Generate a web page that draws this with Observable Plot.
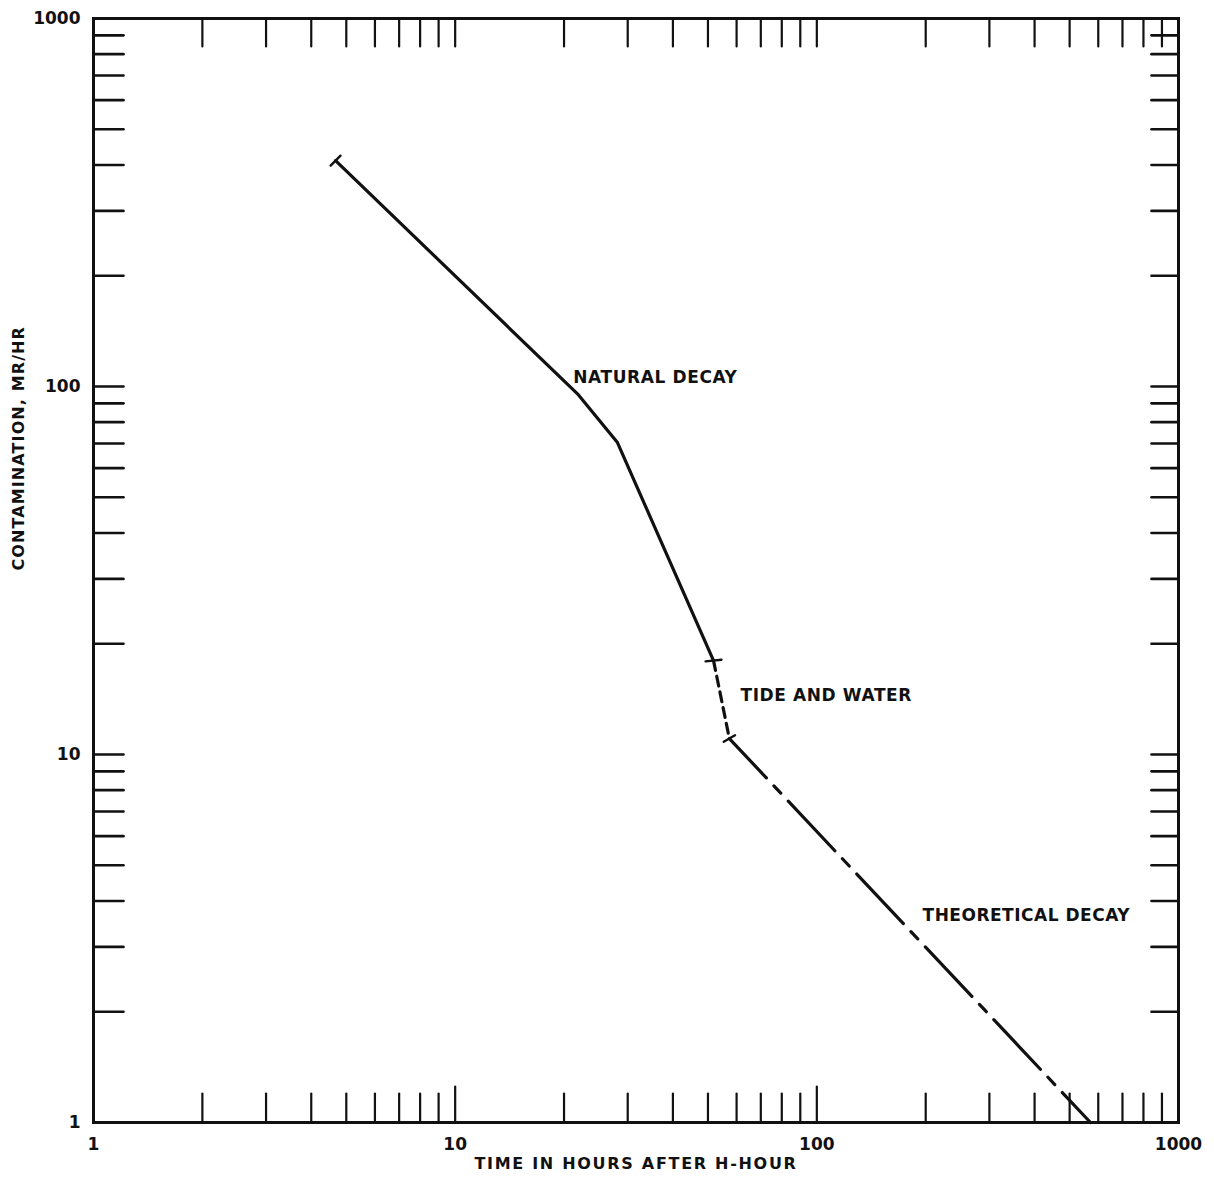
<!DOCTYPE html>
<html>
<head>
<meta charset="utf-8">
<script src="https://cdn.jsdelivr.net/npm/d3@7"></script>
<script src="https://cdn.jsdelivr.net/npm/@observablehq/plot@0.6"></script>
<style>
  body { margin: 0; background: #fff; }
  svg { display: block; }
</style>
</head>
<body>
<div id="chart"></div>
<script>
// ---- data ----
const naturalDecay = [
  {t: 4.67, c: 411},
  {t: 21.9, c: 95},
  {t: 28.1, c: 70.4},
  {t: 51.8, c: 18.0}
];
const tideAndWater = [
  {t: 51.8, c: 18.0},
  {t: 57.3, c: 11.05}
];
const theoreticalDecay = [
  {t: 57.3, c: 11.05},
  {t: 571, c: 1}
];
const xTickLabels = [1, 10, 100, 1000];
const yTickLabels = [1, 10, 100, 1000];
const minorTicks = [2, 3, 4, 5, 6, 7, 8, 9, 20, 30, 40, 50, 60, 70, 80, 90, 200, 300, 400, 500, 600, 700, 800, 900];
const decadeTicks = [10, 100];
const annotations = [
  {label: "NATURAL DECAY", t: 21.2, c: 105.8},
  {label: "TIDE AND WATER", t: 61.5, c: 14.5},
  {label: "THEORETICAL DECAY", t: 196, c: 3.65}
];
const xTitle = "TIME IN HOURS AFTER H-HOUR";
const yTitle = "CONTAMINATION, MR/HR";

// ---- styling ----
const ink = "#111";
const tickShape = {draw(context, l) { context.moveTo(0, 0); context.lineTo(0, -l); }};
const allTicks = minorTicks.concat(decadeTicks);

const plot = Plot.plot({
  width: 1214,
  height: 1183,
  marginLeft: 93,
  marginRight: 36,
  marginTop: 18,
  marginBottom: 61,
  style: {fontFamily: "DejaVu Sans", background: "#fff", color: ink},
  x: {type: "log", domain: [1, 1000], axis: null},
  y: {type: "log", domain: [1, 1000], axis: null},
  marks: [
    // inward ticks, bottom
    Plot.vector(minorTicks, {x: d => d, y: 1, length: 29, rotate: 0, anchor: "start", shape: tickShape, stroke: ink, strokeWidth: 2.2}),
    Plot.vector(decadeTicks, {x: d => d, y: 1, length: 36, rotate: 0, anchor: "start", shape: tickShape, stroke: ink, strokeWidth: 2.2}),
    // top
    Plot.vector(allTicks, {x: d => d, y: 1000, length: 28, rotate: 180, anchor: "start", shape: tickShape, stroke: ink, strokeWidth: 2.2}),
    // left
    Plot.vector(allTicks, {x: 1, y: d => d, length: 30, rotate: 90, anchor: "start", shape: tickShape, stroke: ink, strokeWidth: 2.6}),
    // right
    Plot.vector(allTicks, {x: 1000, y: d => d, length: 27, rotate: 270, anchor: "start", shape: tickShape, stroke: ink, strokeWidth: 2.6}),
    Plot.frame({stroke: ink, strokeWidth: 3}),
    // curves
    Plot.line(naturalDecay, {x: "t", y: "c", stroke: ink, strokeWidth: 3.2}),
    Plot.line(tideAndWater, {x: "t", y: "c", stroke: ink, strokeWidth: 3.2, strokeDasharray: "10 6"}),
    Plot.line(theoreticalDecay, {x: "t", y: "c", stroke: ink, strokeWidth: 3.2, strokeDasharray: "68 11 10 11", strokeDashoffset: 14}),
    // small cross bars at segment ends
    Plot.vector([naturalDecay[0]], {x: "t", y: "c", length: 14, rotate: 45, anchor: "middle", shape: tickShape, stroke: ink, strokeWidth: 2.4}),
    Plot.vector([tideAndWater[0]], {x: "t", y: "c", length: 16, rotate: 84, anchor: "middle", shape: tickShape, stroke: ink, strokeWidth: 2.4}),
    Plot.vector([tideAndWater[1]], {x: "t", y: "c", length: 13, rotate: 60, anchor: "middle", shape: tickShape, stroke: ink, strokeWidth: 2.4}),
    // tick labels
    Plot.text(yTickLabels, {x: 1, y: d => d, text: d => String(d), dx: -13, textAnchor: "end", fontSize: 17, fontWeight: "bold", fill: ink}),
    Plot.text(xTickLabels, {x: d => d, y: 1, text: d => String(d), dy: 22, fontSize: 17, fontWeight: "bold", fill: ink}),
    // annotations
    Plot.text(annotations, {x: "t", y: "c", text: "label", textAnchor: "start", fontSize: 17, fontWeight: "bold", fill: ink}),
    // axis titles
    Plot.text([xTitle], {frameAnchor: "bottom", dy: 46, fontSize: 16, fontWeight: "bold", fill: ink}),
    Plot.text([yTitle], {frameAnchor: "left", rotate: -90, dx: -75, fontSize: 16, fontWeight: "bold", fill: ink})
  ]
});

const spacing = {
  "NATURAL DECAY": "0.6px",
  "TIDE AND WATER": "0.6px",
  "THEORETICAL DECAY": "0.5px"
};
spacing[xTitle] = "1.7px";
spacing[yTitle] = "1.1px";
d3.select(plot).selectAll("text").each(function() {
  const s = spacing[this.textContent];
  if (s) this.style.letterSpacing = s;
});

document.getElementById("chart").appendChild(plot);
</script>
</body>
</html>
